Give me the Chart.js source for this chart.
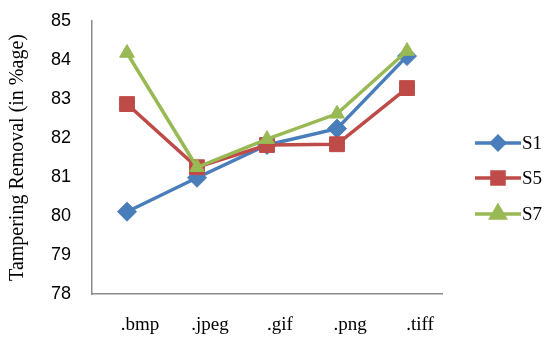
<!DOCTYPE html>
<html>
<head>
<meta charset="utf-8">
<script src="https://cdn.jsdelivr.net/npm/chart.js@4/dist/chart.umd.min.js"></script>
<style>
  html, body { margin: 0; padding: 0; background: #fff; }
  #wrap { width: 549px; height: 337px; }
</style>
</head>
<body>
<div id="wrap"><canvas id="c" width="549" height="337"></canvas></div>
<script>
// File formats on the x axis
const formats = ['.bmp', '.jpeg', '.gif', '.png', '.tiff'];
// Tampering removal (%) per scheme
const s1 = [80.11, 80.98, 81.82, 82.24, 84.1];
const s5 = [82.87, 81.25, 81.82, 81.84, 83.28];
const s7 = [84.18, 81.25, 81.97, 82.62, 84.23];
const seriesNames = ['S1', 'S5', 'S7'];
const yMin = 78, yMax = 85, yStep = 1;

const colors = ['#4a7ebb', '#be4b48', '#98b954'];
const shapes = ['rectRot', 'rect', 'triangle'];
const radii = [9.5, 10.5, 8.5];
const legendRadii = [6.5, 8.5, 8];

const serif = '"Liberation Serif", "Times New Roman", serif';
const sans = '"Liberation Sans", Arial, sans-serif';

// Legend on the right: short line with the series marker in the middle
const sideLegend = {
  id: 'sideLegend',
  afterDraw(chart) {
    const ctx = chart.ctx;
    const x0 = 475, x1 = 521, rowY = [143, 178, 214];
    chart.data.datasets.forEach((ds, i) => {
      const y = rowY[i];
      ctx.save();
      ctx.strokeStyle = ds.borderColor;
      ctx.lineWidth = 3.5;
      ctx.beginPath();
      ctx.moveTo(x0, y);
      ctx.lineTo(x1, y);
      ctx.stroke();
      ctx.fillStyle = ds.pointBackgroundColor;
      ctx.strokeStyle = ds.pointBorderColor;
      Chart.helpers.drawPoint(ctx, {
        pointStyle: ds.pointStyle, radius: legendRadii[i], borderWidth: 1
      }, (x0 + x1) / 2, y);
      ctx.fillStyle = '#000';
      ctx.font = '19px ' + serif;
      ctx.textBaseline = 'middle';
      ctx.textAlign = 'left';
      ctx.fillText(seriesNames[i], x1 + 1, y + 1);
      ctx.restore();
    });
  }
};

const data = [s1, s5, s7];
new Chart(document.getElementById('c'), {
  type: 'line',
  data: {
    labels: formats,
    datasets: data.map((vals, i) => ({
      label: seriesNames[i],
      data: vals,
      // later series are painted over earlier ones
      order: data.length - i,
      borderColor: colors[i],
      backgroundColor: colors[i],
      pointBackgroundColor: colors[i],
      pointBorderColor: colors[i],
      borderWidth: 3.5,
      pointStyle: shapes[i],
      pointRadius: radii[i],
      pointBorderWidth: 1,
      tension: 0,
      fill: false
    }))
  },
  options: {
    responsive: false,
    animation: false,
    devicePixelRatio: 1,
    layout: { padding: { left: 0, right: 107, top: 21, bottom: 0 } },
    plugins: { legend: { display: false }, tooltip: { enabled: false } },
    scales: {
      x: {
        offset: true,
        grid: { display: false, drawTicks: false },
        border: { display: true, color: '#8c8c8c', width: 1.5 },
        ticks: { color: '#000', font: { family: serif, size: 19 }, padding: 20, maxRotation: 0, labelOffset: 13 },
        afterFit(scale) { scale.height = 43; }
      },
      y: {
        min: yMin, max: yMax,
        grid: { display: false, drawTicks: false },
        border: { display: true, color: '#8c8c8c', width: 1.5 },
        ticks: { stepSize: yStep, color: '#000', font: { family: sans, size: 18 }, padding: 21 },
        title: {
          display: true,
          text: 'Tampering Removal (in %age)',
          color: '#000',
          font: { family: serif, size: 20 },
          padding: { top: 6, bottom: 0 }
        },
        afterFit(scale) {
          scale.width = 92;
          // tick padding is meant for the horizontal gap only
          scale.paddingTop = 0;
          scale.paddingBottom = 0;
        }
      }
    }
  },
  plugins: [sideLegend]
});
</script>
</body>
</html>
